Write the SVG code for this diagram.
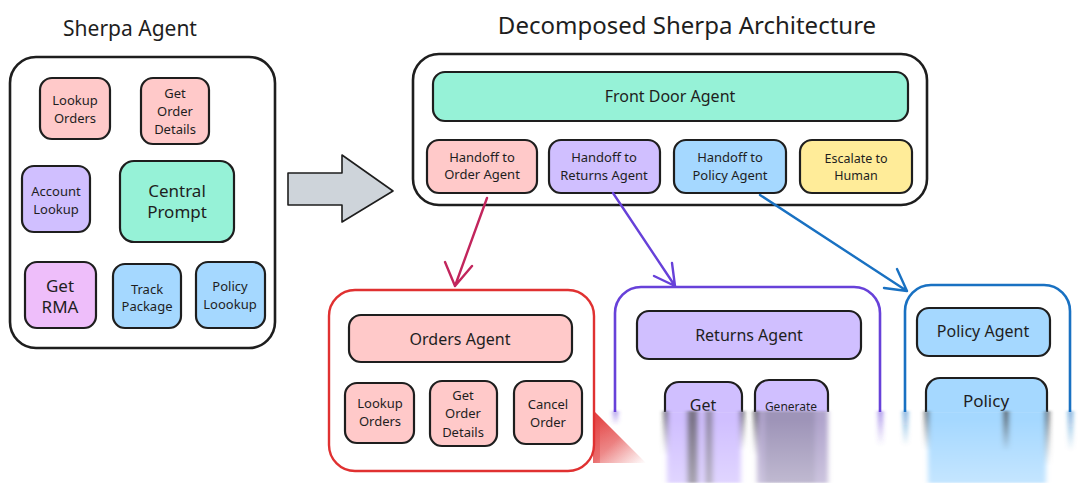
<svg xmlns="http://www.w3.org/2000/svg" width="1080" height="483" viewBox="0 0 1080 483">
  <style>
    text { font-family: "Noto Sans", "DejaVu Sans", sans-serif; fill: #1e1e1e; text-anchor: middle; dominant-baseline: central; }
    .title { font-size: 21px; }
    .big { font-size: 24px; }
    .lbl { font-size: 13px; }
    .lbl16 { font-size: 16px; }
    .lbl17 { font-size: 17px; }
    .box { stroke: #1e1e1e; stroke-width: 2.2; }
    .frame { fill: #ffffff; stroke: #1e1e1e; stroke-width: 2.6; }
    .pink { fill: #ffc9c9; }
    .violet { fill: #d0bfff; }
    .teal { fill: #96f2d7; }
    .grape { fill: #eebefa; }
    .blue { fill: #a5d8ff; }
    .yellow { fill: #ffec99; }
    .conn { fill: none; stroke-width: 2.4; stroke-linecap: round; stroke-linejoin: round; }
  </style>
  <defs>
    <clipPath id="cutoff">
      <rect x="0" y="0" width="1080" height="412"/>
    </clipPath>
    <filter id="smear" x="-20%" y="-5%" width="140%" height="110%">
      <feGaussianBlur stdDeviation="2.5 1"/>
    </filter>
    <linearGradient id="fadeDown" x1="0" y1="0" x2="0" y2="1">
      <stop offset="0" stop-color="#fff" stop-opacity="1"/>
      <stop offset="1" stop-color="#fff" stop-opacity="0"/>
    </linearGradient>
    <mask id="fadeMask" maskContentUnits="objectBoundingBox">
      <rect x="0" y="0" width="1" height="1" fill="url(#fadeDown)"/>
    </mask>
    <linearGradient id="redWedge" x1="0" y1="0" x2="1" y2="1">
      <stop offset="0" stop-color="#e03131" stop-opacity="0.95"/>
      <stop offset="0.5" stop-color="#e03131" stop-opacity="0.7"/>
      <stop offset="1" stop-color="#e03131" stop-opacity="0"/>
    </linearGradient>
    <linearGradient id="haze" x1="0" y1="0" x2="0" y2="1">
      <stop offset="0" stop-color="#fff" stop-opacity="0"/>
      <stop offset="1" stop-color="#fff" stop-opacity="0.35"/>
    </linearGradient>
  </defs>

  <rect width="1080" height="483" fill="#ffffff"/>

  <!-- Left: monolithic agent -->
  <text class="title" x="130" y="28">Sherpa Agent</text>
  <g id="sherpa-agent">
    <rect class="frame" x="10" y="57" width="265" height="291" rx="26"/>
  </g>
  <g id="lookup-orders">
    <rect class="box pink" x="40" y="78" width="70" height="61" rx="12"/>
    <text class="lbl" x="75" y="100">Lookup</text>
    <text class="lbl" x="75" y="118">Orders</text>
  </g>
  <g id="get-order-details">
    <rect class="box pink" x="141" y="78" width="68" height="66" rx="12"/>
    <text class="lbl" x="175" y="93">Get</text>
    <text class="lbl" x="175" y="111">Order</text>
    <text class="lbl" x="175" y="129">Details</text>
  </g>
  <g id="account-lookup">
    <rect class="box violet" x="22" y="166" width="68" height="66" rx="12"/>
    <text class="lbl" x="56" y="191">Account</text>
    <text class="lbl" x="56" y="209">Lookup</text>
  </g>
  <g id="central-prompt">
    <rect class="box teal" x="120" y="161" width="114" height="81" rx="14"/>
    <text class="lbl17" x="177" y="190">Central</text>
    <text class="lbl17" x="177" y="211">Prompt</text>
  </g>
  <g id="get-rma">
    <rect class="box grape" x="25" y="262" width="71" height="66" rx="12"/>
    <text class="lbl17" x="60" y="285">Get</text>
    <text class="lbl17" x="60" y="306">RMA</text>
  </g>
  <g id="track-package">
    <rect class="box blue" x="113" y="264" width="68" height="64" rx="12"/>
    <text class="lbl" x="147" y="289">Track</text>
    <text class="lbl" x="147" y="306">Package</text>
  </g>
  <g id="policy-lookup">
    <rect class="box blue" x="196" y="262" width="69" height="66" rx="12"/>
    <text class="lbl" x="230" y="286">Policy</text>
    <text class="lbl" x="230" y="304">Loookup</text>
  </g>

  <!-- Transformation arrow -->
  <g id="transform-arrow">
    <polygon points="288,173 342,173 342,155 393,191 342,222 342,205 288,205" fill="#ced4da" stroke="#1e1e1e" stroke-width="1.6" stroke-linejoin="round"/>
  </g>

  <!-- Right: decomposed architecture -->
  <text class="big" x="687" y="24">Decomposed Sherpa Architecture</text>
  <g id="front-door-frame">
    <rect class="frame" x="413" y="54" width="514" height="151" rx="26"/>
  </g>
  <g id="front-door-agent">
    <rect class="box teal" x="433" y="72" width="475" height="49" rx="12"/>
    <text class="lbl16" x="670" y="96">Front Door Agent</text>
  </g>
  <g id="handoff-order">
    <rect class="box pink" x="427" y="140" width="110" height="53" rx="12"/>
    <text class="lbl" x="482" y="157">Handoff to</text>
    <text class="lbl" x="482" y="174">Order Agent</text>
  </g>
  <g id="handoff-returns">
    <rect class="box violet" x="549" y="140" width="111" height="53" rx="12"/>
    <text class="lbl" x="604" y="157">Handoff to</text>
    <text class="lbl" x="604" y="175">Returns Agent</text>
  </g>
  <g id="handoff-policy">
    <rect class="box blue" x="674" y="140" width="112" height="53" rx="12"/>
    <text class="lbl" x="730" y="157">Handoff to</text>
    <text class="lbl" x="730" y="175">Policy Agent</text>
  </g>
  <g id="escalate-human">
    <rect class="box yellow" x="800" y="140" width="112" height="53" rx="12"/>
    <text class="lbl" x="856" y="158" style="font-size:12.5px">Escalate to</text>
    <text class="lbl" x="856" y="175" style="font-size:12.5px">Human</text>
  </g>

  <!-- Handoff connectors -->
  <g id="connectors">
    <path class="conn" stroke="#c2255c" d="M487,198 L455,286 M445,262 L455,286 L472,266"/>
    <path class="conn" stroke="#6741d9" d="M613,193 L675,286 M654,276 L675,286 L672,263"/>
    <path class="conn" stroke="#1971c2" d="M760,195 L907,291 M884,288 L907,291 L897,269"/>
  </g>

  <!-- Orders agent -->
  <g id="orders-frame">
    <rect x="329" y="290" width="265" height="181" rx="26" fill="#fff" stroke="#e03131" stroke-width="2.4"/>
  </g>
  <g id="orders-agent">
    <rect class="box pink" x="349" y="315" width="223" height="47" rx="12"/>
    <text class="lbl16" x="460" y="339">Orders Agent</text>
  </g>
  <g id="orders-lookup">
    <rect class="box pink" x="345" y="383" width="69" height="60" rx="12"/>
    <text class="lbl" x="380" y="403">Lookup</text>
    <text class="lbl" x="380" y="421">Orders</text>
  </g>
  <g id="orders-details">
    <rect class="box pink" x="430" y="381" width="67" height="65" rx="12"/>
    <text class="lbl" x="463" y="395">Get</text>
    <text class="lbl" x="463" y="413">Order</text>
    <text class="lbl" x="463" y="432">Details</text>
  </g>
  <g id="orders-cancel">
    <rect class="box pink" x="514" y="381" width="68" height="63" rx="12"/>
    <text class="lbl" x="548" y="404">Cancel</text>
    <text class="lbl" x="548" y="422">Order</text>
  </g>

  <!-- Returns and policy agents (lower part smeared) -->
  <g clip-path="url(#cutoff)">
    <g id="returns-frame">
      <rect x="615" y="287" width="265" height="220" rx="26" fill="#fff" stroke="#6741d9" stroke-width="2.6"/>
    </g>
    <g id="returns-agent">
      <rect class="box violet" x="637" y="311" width="224" height="48" rx="12"/>
      <text class="lbl16" x="749" y="335">Returns Agent</text>
    </g>
    <g id="returns-get">
      <rect class="box violet" x="665" y="382" width="77" height="80" rx="14"/>
      <text class="lbl16" x="703" y="405">Get</text>
    </g>
    <g id="returns-generate">
      <rect class="box violet" x="755" y="380" width="73" height="80" rx="14"/>
      <text class="lbl" x="791" y="406" style="font-size:12px">Generate</text>
    </g>
    <g id="policy-frame">
      <rect x="905" y="285" width="165" height="220" rx="26" fill="#fff" stroke="#1971c2" stroke-width="2.6"/>
    </g>
    <g id="policy-agent">
      <rect class="box blue" x="917" y="308" width="133" height="48" rx="12"/>
      <text class="lbl16" x="983" y="331">Policy Agent</text>
    </g>
    <g id="policy-box">
      <rect class="box blue" x="926" y="378" width="121" height="80" rx="14"/>
      <text class="lbl17" x="986" y="400">Policy</text>
    </g>
  </g>

  <!-- Smeared strip along the lower edge -->
  <polygon points="593,410 646,463 593,463" fill="url(#redWedge)"/>
  <g filter="url(#smear)">
    <rect x="614" y="411" width="3" height="14" fill="#6741d9" mask="url(#fadeMask)"/>
    <rect x="667" y="411" width="74" height="72" fill="#d0bfff"/>
    <rect x="664" y="411" width="4" height="45" fill="#333" mask="url(#fadeMask)"/>
    <rect x="687" y="411" width="11" height="72" fill="#555" opacity="0.7"/>
    <rect x="705" y="411" width="8" height="72" fill="#666" opacity="0.55"/>
    <rect x="740" y="411" width="4" height="40" fill="#333" mask="url(#fadeMask)"/>
    <rect x="757" y="411" width="71" height="72" fill="#b0a4cc"/>
    <rect x="765" y="411" width="50" height="72" fill="#8f86a8" opacity="0.55"/>
    <rect x="754" y="411" width="4" height="45" fill="#333" mask="url(#fadeMask)"/>
    <rect x="879" y="411" width="3" height="35" fill="#6741d9" mask="url(#fadeMask)"/>
    <rect x="904" y="411" width="3" height="35" fill="#1971c2" mask="url(#fadeMask)"/>
    <rect x="928" y="411" width="118" height="72" fill="#a5d8ff"/>
    <rect x="925" y="411" width="4" height="40" fill="#333" mask="url(#fadeMask)"/>
    <rect x="1003" y="411" width="6" height="40" fill="#555" mask="url(#fadeMask)"/>
    <rect x="1045" y="411" width="4" height="55" fill="#222" mask="url(#fadeMask)"/>
    <rect x="1069" y="411" width="3" height="40" fill="#1971c2" mask="url(#fadeMask)"/>
  </g>
  <rect x="600" y="420" width="480" height="63" fill="url(#haze)"/>
</svg>
